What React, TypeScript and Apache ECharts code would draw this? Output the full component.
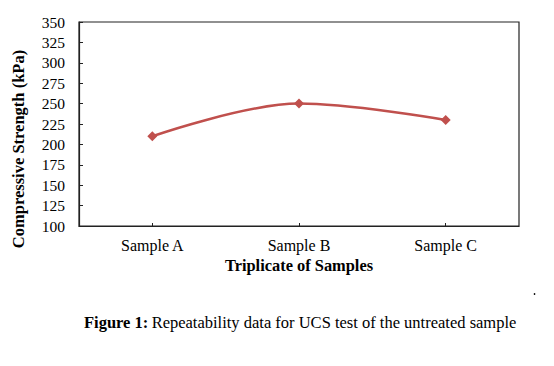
import React, { useEffect, useRef } from "react";
import * as echarts from "echarts";

const categories = ["Sample A", "Sample B", "Sample C"];
const strengthValues = [210, 250, 230];
const yMin = 100;
const yMax = 350;
const yInterval = 25;

const serif = "'Liberation Serif', 'Times New Roman', serif";

export default function App() {
  const ref = useRef<HTMLDivElement>(null);
  useEffect(() => {
    if (!ref.current) return;
    const chart = echarts.init(ref.current, undefined, { renderer: "svg" });
    chart.setOption({
      animation: false,
      backgroundColor: "#ffffff",
      grid: {
        left: 79,
        top: 22,
        right: 35,
        bottom: 140,
        show: true,
        borderColor: "#222",
        borderWidth: 1.2,
      },
      xAxis: {
        type: "category",
        data: categories,
        boundaryGap: true,
        name: "Triplicate of Samples",
        nameLocation: "middle",
        nameGap: 31,
        nameTextStyle: { fontFamily: serif, fontSize: 16.4, fontWeight: "bold", color: "#000" },
        axisLine: { lineStyle: { color: "#222", width: 1.2 } },
        axisTick: { show: true, inside: true, length: 3, alignWithLabel: true, lineStyle: { color: "#222" } },
        axisLabel: { fontFamily: serif, fontSize: 16, color: "#000", margin: 11 },
        splitLine: { show: false },
      },
      yAxis: {
        type: "value",
        min: yMin,
        max: yMax,
        interval: yInterval,
        axisLine: { show: true, lineStyle: { color: "#222", width: 1.2 } },
        axisTick: { show: true, inside: true, length: 4, lineStyle: { color: "#222" } },
        axisLabel: { fontFamily: serif, fontSize: 15.5, color: "#000", margin: 14 },
        splitLine: { show: false },
      },
      series: [
        {
          type: "line",
          data: strengthValues,
          smooth: 0.35,
          symbol: "diamond",
          symbolSize: 10,
          lineStyle: { color: "#c0504d", width: 2.5 },
          itemStyle: { color: "#c0504d" },
        },
      ],
      graphic: [
        {
          type: "text",
          x: 18,
          y: 149,
          rotation: Math.PI / 2,
          style: {
            text: "Compressive Strength (kPa)",
            fontFamily: serif,
            fontSize: 16.5,
            fontWeight: "bold",
            fill: "#000",
            align: "center",
            verticalAlign: "middle",
          },
        },
        {
          type: "text",
          x: 84,
          y: 322,
          style: {
            text: "{b|Figure 1:} {r|Repeatability data for UCS test of the untreated sample}",
            align: "left",
            verticalAlign: "middle",
            rich: {
              b: { fontFamily: serif, fontSize: 16.5, fontWeight: "bold", fill: "#000" },
              r: { fontFamily: serif, fontSize: 16.5, fill: "#000" },
            },
          },
        },
        {
          type: "circle",
          shape: { cx: 534.5, cy: 294, r: 0.8 },
          style: { fill: "#000" },
        },
      ],
    });
    return () => chart.dispose();
  }, []);
  return (
    <div
      ref={ref}
      style={{ position: "fixed", left: 0, top: 0, width: 554, height: 366, background: "#fff" }}
    />
  );
}
